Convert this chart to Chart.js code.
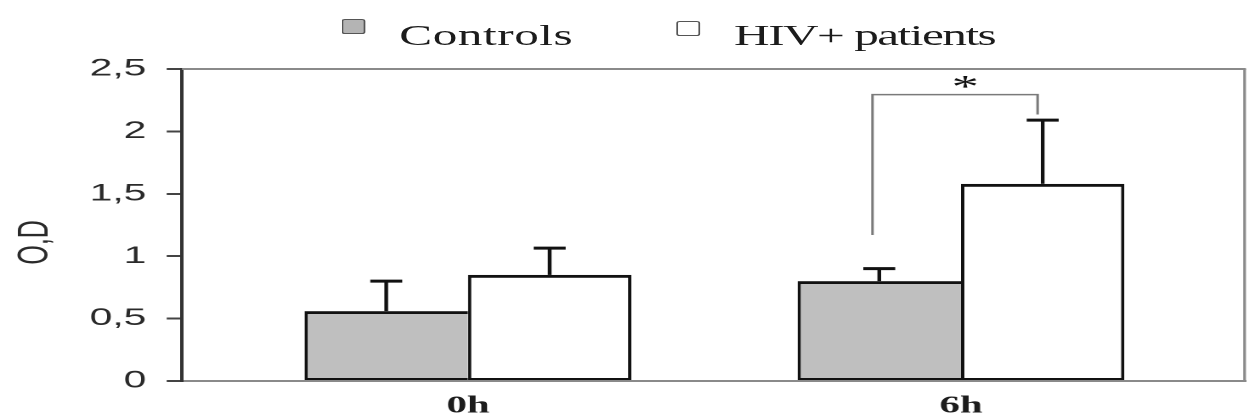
<!DOCTYPE html>
<html>
<head>
<meta charset="utf-8">
<script src="https://cdn.jsdelivr.net/npm/chart.js@4.4.1/dist/chart.umd.min.js"></script>
<style>
html,body{margin:0;padding:0;background:#fff;overflow:hidden;width:1249px;height:419px;}
#wrap{position:absolute;left:0;top:0;width:735px;height:419px;transform:scaleX(1.69932);transform-origin:0 0;}
#box{position:absolute;left:0;top:0;width:735px;height:419px;}
.lg{position:absolute;font-family:"Liberation Serif","Times New Roman",serif;font-size:29px;line-height:29px;color:#1c1c1c;white-space:nowrap;z-index:2;}
.sw{position:absolute;width:12px;height:13px;border:1px solid #555;border-radius:2px;z-index:2;}
</style>
</head>
<body>
<div id="wrap">
  <div id="box"><canvas id="c"></canvas></div>
  <div class="sw" id="sw0" style="left:201px;top:19px;background:#b4b4b4;"></div>
  <div class="lg" id="lg0" style="left:235px;top:21px;letter-spacing:0.3px;"></div>
  <div class="sw" id="sw1" style="left:398px;top:21px;background:#fff;"></div>
  <div class="lg" id="lg1" style="left:432px;top:21px;letter-spacing:-0.9px;"></div>
</div>
<script>
// ---- data ----
const categories = ['0h', '6h'];
const seriesNames = ['Controls', 'HIV+ patients'];
const controlsMean = [0.56, 0.80];
const controlsSD = [0.24, 0.10];
const hivMean = [0.85, 1.58];
const hivSD = [0.215, 0.51];
const yTickValues = [0, 0.5, 1, 1.5, 2, 2.5];
const yTickLabels = ['0', '0,5', '1', '1,5', '2', '2,5'];
const yTitle = 'O,D';
const sigMark = '*';

document.getElementById('lg0').textContent = seriesNames[0];
document.getElementById('lg1').textContent = seriesNames[1];

Chart.defaults.font.family = '"Liberation Sans", Arial, sans-serif';

const frame = {
  id: 'frame',
  beforeDatasetsDraw(chart) {
    const {ctx, chartArea: a} = chart;
    ctx.save();
    ctx.strokeStyle = '#8a8a8a';
    ctx.lineWidth = 2;
    ctx.beginPath();
    ctx.moveTo(a.left, a.top); ctx.lineTo(a.right, a.top);
    ctx.stroke();
    ctx.lineWidth = 1.6;
    ctx.beginPath();
    ctx.moveTo(a.right - 0.8, a.top); ctx.lineTo(a.right - 0.8, a.bottom);
    ctx.stroke();
    ctx.restore();
  }
};

const errorBars = {
  id: 'errorBars',
  afterDatasetsDraw(chart) {
    const ctx = chart.ctx, ys = chart.scales.y;
    const sets = [[controlsMean, controlsSD], [hivMean, hivSD]];
    sets.forEach(([m, sd], di) => {
      chart.getDatasetMeta(di).data.forEach((bar, j) => {
        const yt = ys.getPixelForValue(m[j] + sd[j]);
        ctx.save();
        ctx.strokeStyle = '#111';
        ctx.lineWidth = 2.2;
        ctx.beginPath(); ctx.moveTo(bar.x, bar.y); ctx.lineTo(bar.x, yt); ctx.stroke();
        ctx.lineWidth = 3;
        ctx.beginPath(); ctx.moveTo(bar.x - 9.4, yt); ctx.lineTo(bar.x + 9.4, yt); ctx.stroke();
        ctx.restore();
      });
    });
  }
};

const sig = {
  id: 'sig',
  afterDatasetsDraw(chart) {
    const ctx = chart.ctx, ys = chart.scales.y;
    const a = chart.getDatasetMeta(0).data[1], b = chart.getDatasetMeta(1).data[1];
    const xl = a.x - 4, xr = b.x - 3;
    const yStart = ys.getPixelForValue(1.17), yTop = ys.getPixelForValue(2.295), yEnd = ys.getPixelForValue(2.135);
    ctx.save();
    ctx.strokeStyle = '#7a7a7a';
    ctx.lineWidth = 1.5;
    ctx.beginPath();
    ctx.moveTo(xl, yStart); ctx.lineTo(xl, yTop); ctx.lineTo(xr, yTop); ctx.lineTo(xr, yEnd);
    ctx.stroke();
    ctx.fillStyle = '#111';
    ctx.font = '32px "Liberation Serif", "Times New Roman", serif';
    ctx.textAlign = 'center';
    ctx.textBaseline = 'middle';
    ctx.fillText(sigMark, (xl + xr) / 2 + 6, ys.getPixelForValue(2.375) + 4);
    ctx.restore();
  }
};

new Chart(document.getElementById('c'), {
  type: 'bar',
  data: {
    datasets: [
      {
        label: seriesNames[0],
        data: controlsMean.map((v, i) => ({x: i, y: v})),
        backgroundColor: '#bfbfbf',
        borderColor: '#111',
        borderWidth: {top: 3, left: 2, bottom: 2, right: 0},
        borderSkipped: false,
        categoryPercentage: 0.663,
        barPercentage: 1.0
      },
      {
        label: seriesNames[1],
        data: hivMean.map((v, i) => ({x: i, y: v})),
        backgroundColor: '#ffffff',
        borderColor: '#111',
        borderWidth: {top: 3, left: 2, bottom: 2, right: 2},
        borderSkipped: false,
        categoryPercentage: 0.663,
        barPercentage: 1.0
      }
    ]
  },
  options: {
    responsive: true,
    maintainAspectRatio: false,
    devicePixelRatio: 2,
    animation: false,
    layout: {padding: {top: 69, right: 1.8, left: 0, bottom: 0}},
    plugins: {legend: {display: false}, tooltip: {enabled: false}},
    scales: {
      x: {
        type: 'linear',
        min: -0.58,
        max: 1.578,
        offset: false,
        afterBuildTicks: (s) => { s.ticks = categories.map((c, i) => ({value: i})); },
        ticks: {
          callback: (v) => categories[v],
          font: {family: '"Liberation Serif", "Times New Roman", serif', size: 24, weight: 'bold'},
          color: '#1c1c1c',
          padding: 11,
          maxRotation: 0,
          autoSkip: false
        },
        grid: {display: false, drawTicks: false},
        border: {display: true, color: '#8a8a8a', width: 2},
        afterFit: (s) => { s.height = 38; }
      },
      y: {
        min: 0,
        max: 2.5,
        afterBuildTicks: (s) => { s.ticks = yTickValues.map(v => ({value: v})); },
        ticks: {
          callback: (v) => yTickLabels[yTickValues.findIndex(t => Math.abs(t - v) < 1e-9)],
          font: {size: 24},
          color: '#2a2a2a',
          padding: 12
        },
        grid: {drawOnChartArea: false, drawTicks: true, tickLength: 9, color: '#444', lineWidth: 2},
        border: {display: true, color: '#333', width: 2},
        title: {
          display: true,
          text: yTitle + '     ',
          font: {size: 25},
          color: '#2a2a2a',
          padding: {top: 6, bottom: 0}
        },
        afterFit: (s) => { s.width = 107.1; }
      }
    }
  },
  plugins: [frame, errorBars, sig]
});
</script>
</body>
</html>
